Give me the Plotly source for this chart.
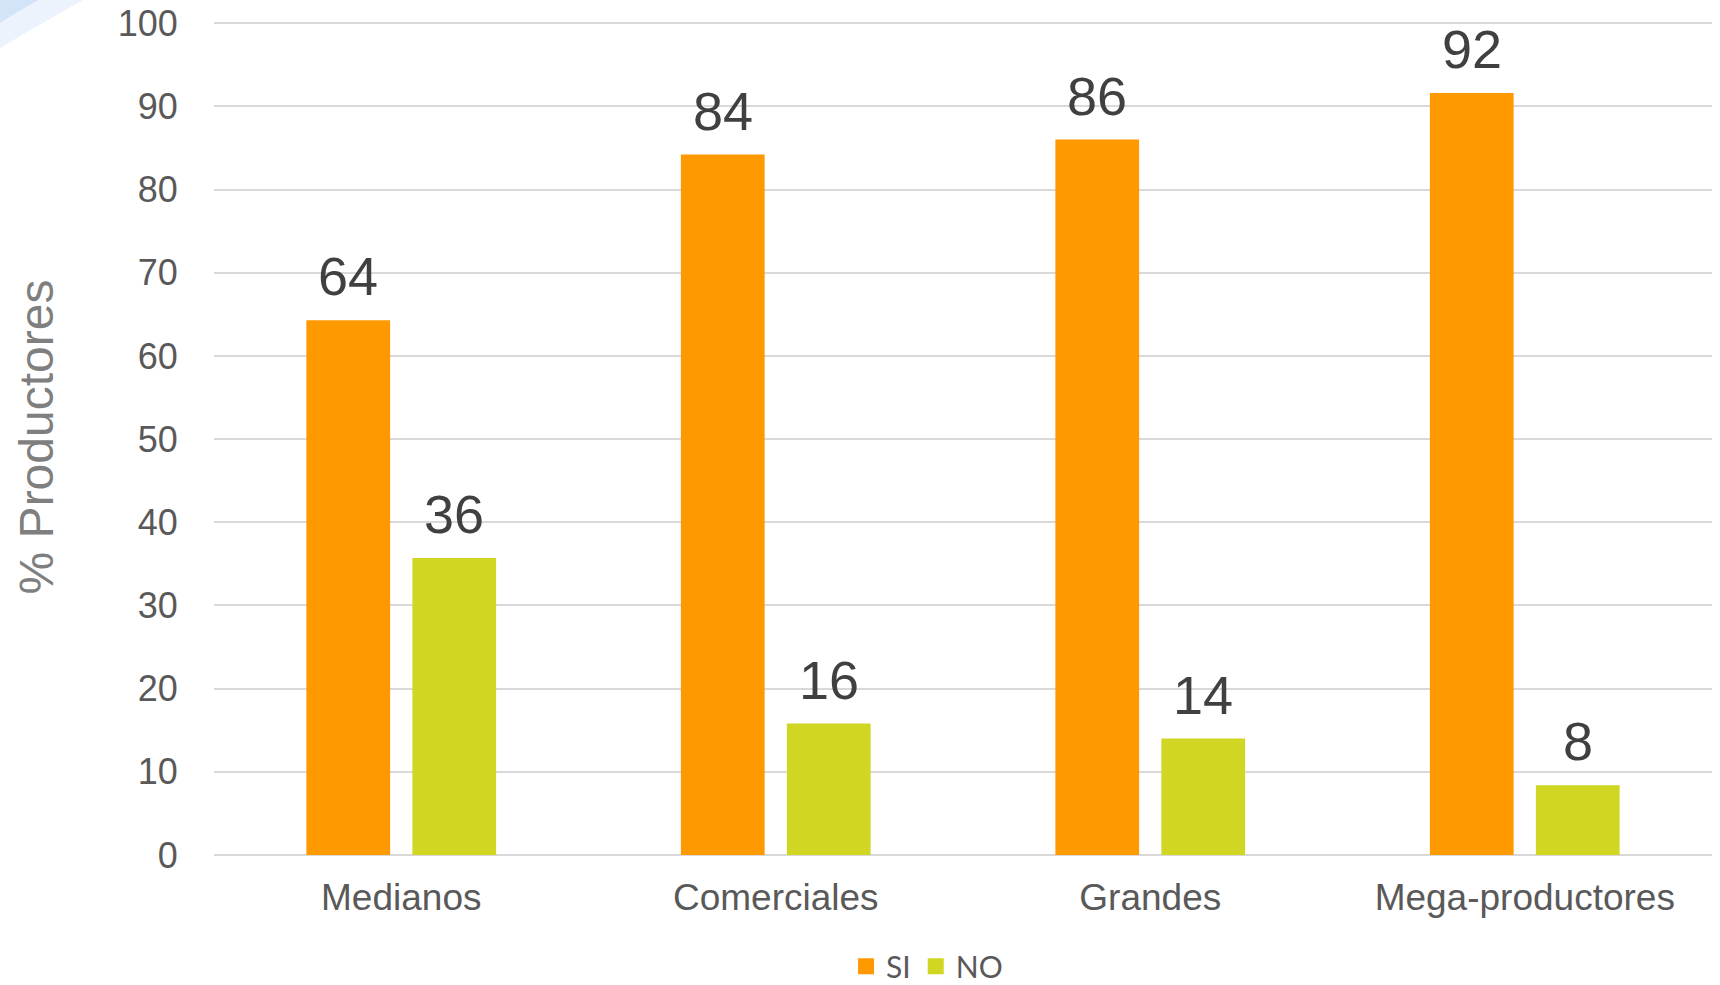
import plotly.graph_objects as go

categories = ["Medianos", "Comerciales", "Grandes", "Mega-productores"]
si_values = [64.3, 84.2, 86.0, 91.6]
no_values = [35.7, 15.8, 14.0, 8.4]
series_names = ["SI", "NO"]
y_ticks = [0, 10, 20, 30, 40, 50, 60, 70, 80, 90, 100]

COL_SI = "#FF9900"
COL_NO = "#D0D622"

W, H = 1720, 985
ML, MR, MT, MB = 214, 8, 19, 130
BARGAP = 0.434
GROUPGAP = 0.21

fig = go.Figure()
for name, vals, col in [(series_names[0], si_values, COL_SI), (series_names[1], no_values, COL_NO)]:
    fig.add_trace(go.Bar(x=categories, y=vals, name=name, showlegend=False,
                         marker=dict(color=col, line=dict(width=0))))
    # legend entry with a larger square swatch
    fig.add_trace(go.Scatter(x=[None], y=[None], mode="markers", name=name,
                             marker=dict(symbol="square", size=21, color=col)))

# value labels as annotations above bars
plot_w = W - ML - MR
cat_w = plot_w / len(categories)
slot = cat_w * (1 - BARGAP) / 2
for si, (name, vals) in enumerate([(series_names[0], si_values), (series_names[1], no_values)]):
    shift = (si - 0.5) * slot
    for c, v in zip(categories, vals):
        fig.add_annotation(x=c, y=v, xref="x", yref="y", text=f"{round(v):d}",
                           showarrow=False, yanchor="bottom", xanchor="center",
                           xshift=shift, yshift=12,
                           font=dict(family="Liberation Sans, Arial", size=54, color="#404040"))

# subtle corner decoration
fig.add_shape(type="path", xref="paper", yref="paper", layer="below",
              path="M -0.1428 1.03 L -0.08 1.03 Q -0.12 0.99 -0.1428 0.965 Z",
              fillcolor="rgba(200,220,245,0.35)", line=dict(width=0))
fig.add_shape(type="path", xref="paper", yref="paper", layer="below",
              path="M -0.1428 1.03 L -0.11 1.03 Q -0.135 1.005 -0.1428 0.995 Z",
              fillcolor="rgba(170,200,240,0.35)", line=dict(width=0))

fig.update_layout(
    width=W, height=H,
    margin=dict(l=ML, r=MR, t=MT, b=MB, pad=0, autoexpand=False),
    paper_bgcolor="white", plot_bgcolor="white",
    barmode="group", bargap=BARGAP, bargroupgap=GROUPGAP,
    font=dict(family="Liberation Sans, Arial", color="#595959"),
    showlegend=True,
    legend=dict(orientation="h", x=0.476, xanchor="center", y=-0.133, yanchor="middle",
                font=dict(family="Lato, Liberation Sans", size=30, color="#595959"),
                tracegroupgap=0, itemwidth=30),
    xaxis=dict(showgrid=False, showline=False, ticks="outside", ticklen=10,
               tickcolor="rgba(0,0,0,0)", tickfont=dict(size=37, color="#595959"),
               zeroline=False),
    yaxis=dict(range=[0, 100.5], tickvals=y_ticks, showgrid=True, gridcolor="#D9D9D9",
               gridwidth=1.5, zeroline=True, zerolinecolor="#D9D9D9", zerolinewidth=1.5,
               showline=False, ticks="outside", ticklen=28, tickcolor="rgba(0,0,0,0)",
               tickfont=dict(size=36, color="#595959"),
               title=dict(text="% Productores", standoff=48,
                          font=dict(size=48, color="#7F7F7F"))),
)

fig.write_html("out.html")
